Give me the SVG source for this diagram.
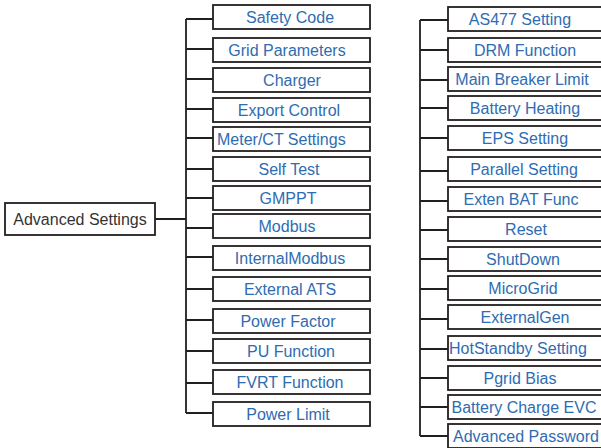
<svg xmlns="http://www.w3.org/2000/svg" width="601" height="448" viewBox="0 0 601 448">
<style>
.box{fill:#fff;stroke:#231f20;stroke-width:1.8}
.t{font-family:"Liberation Sans",Arial,sans-serif;font-size:16px;fill:#2e6cb2;text-anchor:middle}
.s{text-anchor:start}
.root{fill:#333}
.ln{fill:none;stroke:#231f20;stroke-width:1.8}
</style>
<rect width="601" height="448" fill="#fff"/>
<g id="connectors">
<path class="ln" d="M155 219H186M186 19V413M186 19H213M186 49H213M186 79H213M186 109H213M186 138H213M186 169H213M186 198H213M186 228H213M186 257H213M186 289H213M186 320H213M186 351H213M186 383H213M186 413H213"/>
<path class="ln" d="M420 20V436M420 20H448M420 50H448M420 80H448M420 108H448M420 138H448M420 171H448M420 201H448M420 230H448M420 259H448M420 289H448M420 319H448M420 349H448M420 378H448M420 407H448M420 436H448"/>
</g>
<g id="advanced-settings"><rect class="box" x="5" y="203" width="150" height="32"/><text class="t root" x="80" y="225">Advanced Settings</text></g>
<g id="safety-code"><rect class="box" x="213" y="5" width="157" height="24"/><text class="t" x="290" y="23">Safety Code</text></g>
<g id="grid-parameters"><rect class="box" x="213" y="38" width="157" height="24"/><text class="t" x="287" y="56">Grid Parameters</text></g>
<g id="charger"><rect class="box" x="213" y="68" width="157" height="24"/><text class="t" x="292" y="86">Charger</text></g>
<g id="export-control"><rect class="box" x="213" y="98" width="157" height="24"/><text class="t" x="289" y="116">Export Control</text></g>
<g id="meter-ct"><rect class="box" x="213" y="127" width="157" height="24"/><text class="t s" x="217" y="145">Meter/CT Settings</text></g>
<g id="self-test"><rect class="box" x="213" y="157" width="157" height="24"/><text class="t" x="289" y="175">Self Test</text></g>
<g id="gmppt"><rect class="box" x="213" y="186" width="157" height="24"/><text class="t" x="288" y="204">GMPPT</text></g>
<g id="modbus"><rect class="box" x="213" y="214" width="157" height="24"/><text class="t" x="287" y="232">Modbus</text></g>
<g id="internal-modbus"><rect class="box" x="213" y="246" width="157" height="24"/><text class="t" x="290" y="264">InternalModbus</text></g>
<g id="external-ats"><rect class="box" x="213" y="277" width="157" height="24"/><text class="t" x="290" y="295">External ATS</text></g>
<g id="power-factor"><rect class="box" x="213" y="309" width="157" height="24"/><text class="t" x="288" y="327">Power Factor</text></g>
<g id="pu-function"><rect class="box" x="213" y="339" width="157" height="24"/><text class="t" x="291" y="357">PU Function</text></g>
<g id="fvrt-function"><rect class="box" x="213" y="370" width="157" height="24"/><text class="t" x="290" y="388">FVRT Function</text></g>
<g id="power-limit"><rect class="box" x="213" y="402" width="157" height="24"/><text class="t" x="288" y="420">Power Limit</text></g>
<g id="as477"><rect class="box" x="448" y="7" width="160" height="24"/><text class="t" x="520" y="25">AS477 Setting</text></g>
<g id="drm"><rect class="box" x="448" y="38" width="160" height="24"/><text class="t" x="525" y="56">DRM Function</text></g>
<g id="main-breaker"><rect class="box" x="448" y="67" width="160" height="24"/><text class="t" x="522" y="85">Main Breaker Limit</text></g>
<g id="battery-heating"><rect class="box" x="448" y="96" width="160" height="24"/><text class="t" x="525" y="114">Battery Heating</text></g>
<g id="eps"><rect class="box" x="448" y="126" width="160" height="24"/><text class="t" x="525" y="144">EPS Setting</text></g>
<g id="parallel"><rect class="box" x="448" y="157" width="160" height="24"/><text class="t" x="524" y="175">Parallel Setting</text></g>
<g id="exten-bat"><rect class="box" x="448" y="187" width="160" height="24"/><text class="t" x="521" y="205">Exten BAT Func</text></g>
<g id="reset"><rect class="box" x="448" y="217" width="160" height="24"/><text class="t" x="526" y="235">Reset</text></g>
<g id="shutdown"><rect class="box" x="448" y="247" width="160" height="24"/><text class="t" x="523" y="265">ShutDown</text></g>
<g id="microgrid"><rect class="box" x="448" y="276" width="160" height="24"/><text class="t" x="523" y="294">MicroGrid</text></g>
<g id="externalgen"><rect class="box" x="448" y="305" width="160" height="24"/><text class="t" x="525" y="323">ExternalGen</text></g>
<g id="hotstandby"><rect class="box" x="448" y="336" width="160" height="24"/><text class="t s" x="449" y="354">HotStandby Setting</text></g>
<g id="pgrid-bias"><rect class="box" x="448" y="366" width="160" height="24"/><text class="t" x="520" y="384">Pgrid Bias</text></g>
<g id="battery-charge-evc"><rect class="box" x="448" y="395" width="160" height="24"/><text class="t" x="524" y="413">Battery Charge EVC</text></g>
<g id="advanced-password"><rect class="box" x="448" y="424" width="160" height="24"/><text class="t s" x="453" y="442">Advanced Password</text></g>
</svg>
